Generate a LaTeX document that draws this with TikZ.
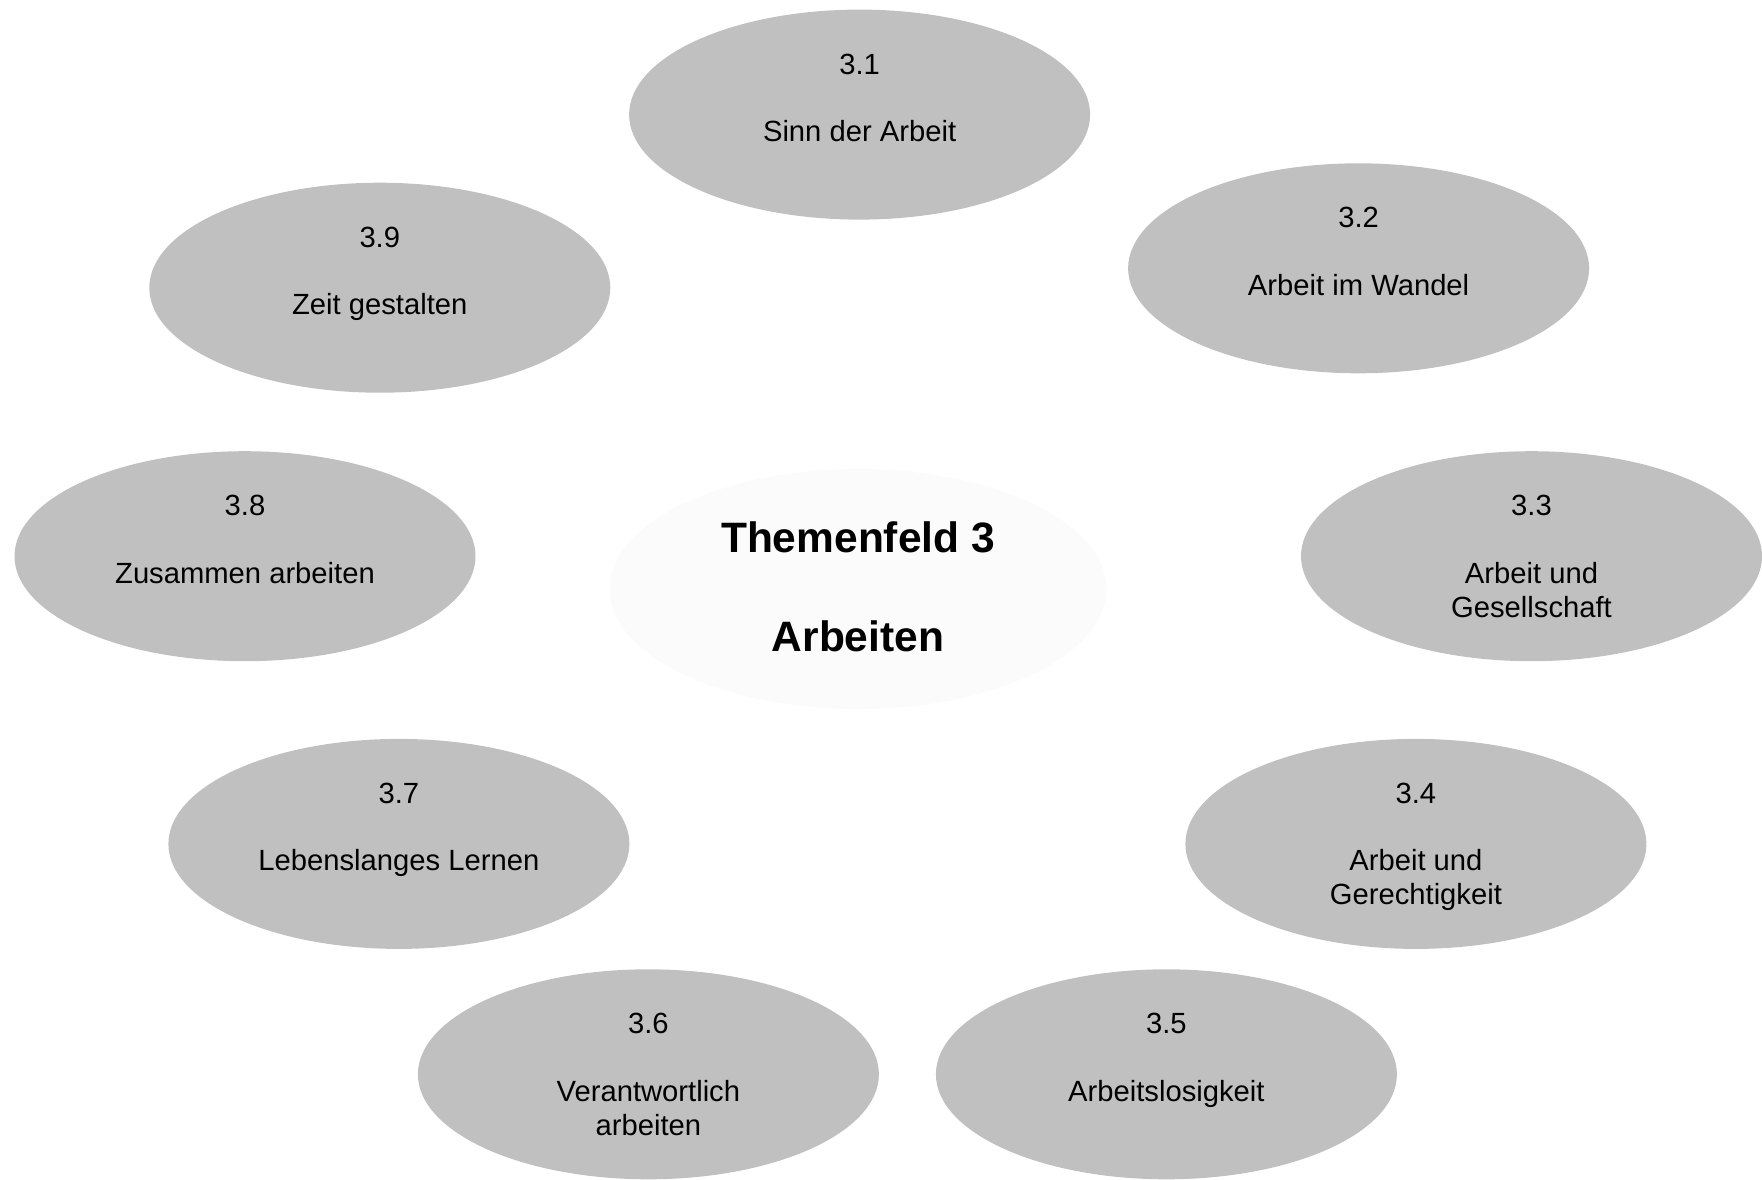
\documentclass[tikz,border=0pt]{standalone}
\usepackage{fontspec}
\setmainfont{Liberation Sans}
\usepackage{tikz}
\usetikzlibrary{positioning, shapes.geometric}
\usepackage{xcolor}
\definecolor{TopicGray}{RGB}{192, 192, 192}
\definecolor{HubWhite}{RGB}{251, 251, 251}
\tikzset{%
  topic_ellipse/.style={%
    ellipse,%
    fill=TopicGray,%
    minimum width=461pt,%
    minimum height=210pt,%
    inner sep=0pt%
  },
  hub_ellipse/.style={%
    ellipse,%
    fill=HubWhite,%
    minimum width=497pt,%
    minimum height=240pt,%
    inner sep=0pt%
  },
  topic_text/.style={%
    font={\fontsize{29.2}{34}\selectfont},%
    align=center,%
    anchor=north,%
    inner sep=0pt,%
    yshift=64.5pt%
  },
  hub_text/.style={%
    font={\fontsize{42.5}{49.5}\selectfont\bfseries},%
    align=center,%
    anchor=north,%
    inner sep=0pt,%
    yshift=71pt%
  },
}
\begin{document}
\begin{tikzpicture}[x=1pt, y=-1pt]
    \useasboundingbox (0, 0) rectangle (1762, 1179);

    \node [hub_ellipse] (Hub) at (858, 589) {};
    \node [hub_text] (HubText) at (Hub.center) {%
      \strut Themenfeld 3\\[49.5pt]Arbeiten%
    };

    \node [topic_ellipse] (Topic1) at (859.6, 114.6) {};
    \node [topic_ellipse] (Topic2) at (1358.6, 268.3) {};
    \node [topic_ellipse] (Topic3) at (1531.5, 556.2) {};
    \node [topic_ellipse] (Topic4) at (1415.9, 843.9) {};
    \node [topic_ellipse] (Topic5) at (1166.4, 1074.3) {};
    \node [topic_ellipse] (Topic6) at (648.4, 1074.3) {};
    \node [topic_ellipse] (Topic7) at (398.9, 843.9) {};
    \node [topic_ellipse] (Topic8) at (245, 556.2) {};
    \node [topic_ellipse] (Topic9) at (379.8, 287.7) {};

    \node [topic_text] (Text1) at (Topic1.center) {%
      \strut 3.1\\[33.5pt]Sinn der Arbeit%
    };
    \node [topic_text] (Text2) at (Topic2.center) {%
      \strut 3.2\\[33.5pt]Arbeit im Wandel%
    };
    \node [topic_text] (Text3) at (Topic3.center) {%
      \strut 3.3\\[33.5pt]Arbeit und\\Gesellschaft%
    };
    \node [topic_text] (Text4) at (Topic4.center) {%
      \strut 3.4\\[33.5pt]Arbeit und\\Gerechtigkeit%
    };
    \node [topic_text] (Text5) at (Topic5.center) {%
      \strut 3.5\\[33.5pt]Arbeitslosigkeit%
    };
    \node [topic_text] (Text6) at (Topic6.center) {%
      \strut 3.6\\[33.5pt]Verantwortlich\\arbeiten%
    };
    \node [topic_text] (Text7) at (Topic7.center) {%
      \strut 3.7\\[33.5pt]Lebenslanges Lernen%
    };
    \node [topic_text] (Text8) at (Topic8.center) {%
      \strut 3.8\\[33.5pt]Zusammen arbeiten%
    };
    \node [topic_text] (Text9) at (Topic9.center) {%
      \strut 3.9\\[33.5pt]Zeit gestalten%
    };
  \end{tikzpicture}
\end{document}
